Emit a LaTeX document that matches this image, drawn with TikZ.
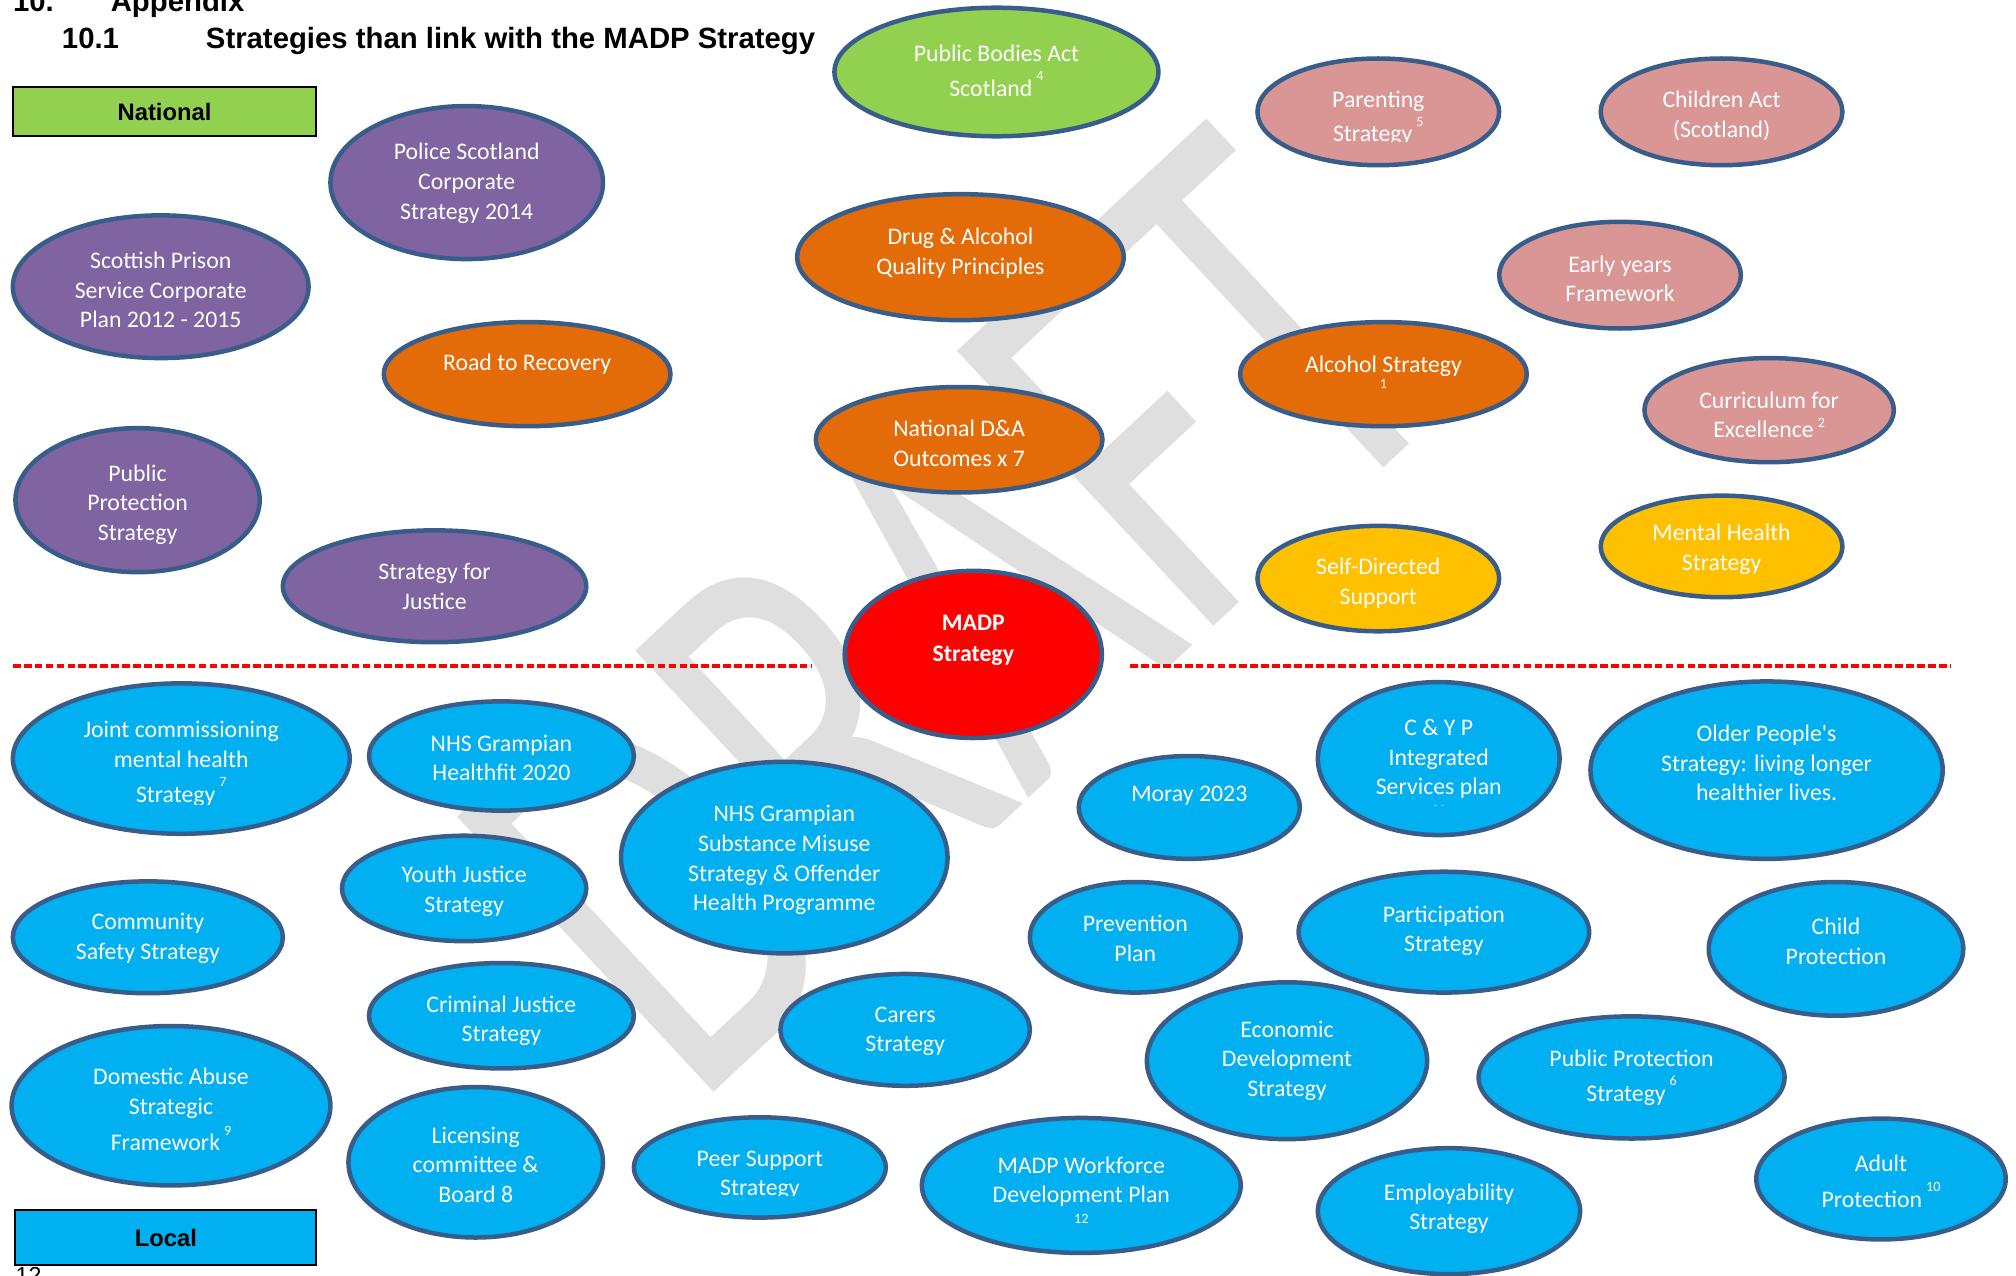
\documentclass[tikz,border=0pt]{standalone}
\usepackage{fontspec}
\setmainfont{Carlito}
\newfontfamily\arialf{Liberation Sans}
\usetikzlibrary{shapes.geometric}
\definecolor{cgreen}{HTML}{92D050}
\definecolor{cpink}{HTML}{D99694}
\definecolor{cpurple}{HTML}{8064A2}
\definecolor{corange}{HTML}{E36C09}
\definecolor{cyellow}{HTML}{FFC000}
\definecolor{cred}{HTML}{FF0000}
\definecolor{cblue}{HTML}{00B0F0}
\definecolor{cbord}{HTML}{385D8A}
\definecolor{cwm}{HTML}{DFDFDF}
\newcommand\bfnt{\fontsize{18.5}{23}\selectfont}
\newcommand\supf{\fontsize{11}{11}\selectfont}
\newcommand\sps[2][13pt]{\,\smash{\raisebox{#1}{\supf #2}}}
\tikzset{
  bub/.style={ellipse, draw=cbord, line width=3.5pt, inner sep=0pt},
  btxt/.style={text=white, font=\bfnt, align=center, inner sep=0pt, yshift=-2.5pt},
  titl/.style={anchor=base west, inner sep=0pt, font=\arialf\bfseries\fontsize{22.8}{26}\selectfont},
  lab/.style={draw=black, line width=1.6pt, inner sep=0pt, font=\arialf\bfseries\fontsize{18.5}{22}\selectfont},
  sep/.style={draw=cred, line width=2.6pt, dash pattern=on 6pt off 2.5pt}
}
\newcommand\bub[8]{%
  \node[bub, fill=#2, minimum width=#5pt, minimum height=#6pt] (#1) at (#3,#4) {};
  \node[btxt] (#1-t) at (#3,#7) {#8};}
\begin{document}
\begin{tikzpicture}[x=1pt,y=-1pt]
\path[use as bounding box] (0,0) rectangle (1568,992.4);
% watermark
\node[anchor=base west, inner sep=0pt, rotate=43, text=cwm] (wm) at (540,864)
  {\scalebox{1}[1.49]{\fontsize{306}{306}\selectfont DRAFT}};
% title
\node[titl] (t1a) at (10,9) {10.};
\node[titl] (t1b) at (86,9) {Appendix};
\node[titl] (t2a) at (48,37.6) {10.1};
\node[titl] (t2b) at (160,37.6) {Strategies than link with the MADP Strategy};
% labels
\node[lab, fill=cgreen, minimum width=236pt, minimum height=38pt] (nat) at (128,87) {National};
\node[lab, fill=cblue, minimum width=234pt, minimum height=43pt] (loc) at (129,962.5) {Local};
\node[anchor=base west, inner sep=0pt, font=\arialf\fontsize{18}{20}\selectfont] (pg) at (12,998) {12};
% separators
\coordinate (s1a) at (10,518); \coordinate (s1b) at (631,518);
\coordinate (s2a) at (879,518); \coordinate (s2b) at (1517,518);
\draw[sep] (s1a) -- (s1b);
\draw[sep] (s2a) -- (s2b);
% national
\bub{pb}{cgreen}{775}{56}{252}{100}{52.5}{Public Bodies Act\\[4pt]Scotland\sps[12pt]{4}}
\node[bub, fill=cpink, minimum width=188pt, minimum height=83pt] (par) at (1072,87) {};
\begin{scope}\clip (977,40) rectangle (1167,110.2);
\node[btxt] (par-t) at (1072,89.5) {Parenting\\[4pt]Strategy\sps[12pt]{5}};
\end{scope}
\bub{ch}{cpink}{1339}{87}{188}{83}{87.5}{Children Act\\(Scotland)}
\bub{pol}{cpurple}{363}{142}{212}{119}{140}{Police Scotland\\Corporate\\Strategy 2014}
\bub{spr}{cpurple}{125}{223}{230}{111}{223}{Scottish Prison\\Service Corporate\\Plan 2012 - 2015}
\bub{dq}{corange}{747}{200}{254}{98}{194.5}{Drug \& Alcohol\\Quality Principles}
\bub{ey}{cpink}{1260}{214}{188}{83}{214.5}{Early years\\Framework}
\bub{rr}{corange}{410}{291}{223}{81}{281}{Road to Recovery}
\bub{alc}{corange}{1076}{291}{223}{81}{287}{Alcohol Strategy\\[-10pt]{\supf 1}}
\bub{cur}{cpink}{1376}{319}{194}{81}{320}{Curriculum for\\Excellence\sps[8pt]{2}}
\bub{nda}{corange}{746}{342}{223}{82}{342.5}{National D\&A\\Outcomes x 7}
\node[bub, fill=cpurple, minimum width=190pt, minimum height=112pt] (pps) at (107,389) {};
\begin{scope}\clip (11,330) rectangle (202,422.5);
\node[btxt] (pps-t) at (107,390) {Public\\Protection\\Strategy};
\end{scope}
\bub{sfj}{cpurple}{338}{456}{236}{87}{453.5}{Strategy for\\Justice}
\bub{mh}{cyellow}{1339}{425}{188}{79}{424.5}{Mental Health\\Strategy}
\bub{sds}{cyellow}{1072}{450}{188}{82}{451}{Self-Directed\\Support}
\bub{madp}{cred}{757}{509}{200}{130}{495.5}{\bfseries MADP\\[1pt]\bfseries Strategy}
% local
\node[bub, fill=cblue, minimum width=262pt, minimum height=117pt] (jc) at (141,590) {};
\begin{scope}\clip (9,530) rectangle (273,626);
\node[btxt] (jc-t) at (141,591.5) {Joint commissioning\\mental health\\[4pt]Strategy\sps[12pt]{7}};
\end{scope}
\bub{hf}{cblue}{390}{588}{206}{85}{587}{NHS Grampian\\Healthfit 2020}
\bub{sm}{cblue}{610}{667}{254}{149}{666.5}{NHS Grampian\\Substance Misuse\\Strategy \& Offender\\Health Programme}
\bub{mor}{cblue}{925}{628}{172}{80}{616}{Moray 2023}
\node[bub, fill=cblue, minimum width=188pt, minimum height=119pt] (cyp) at (1119,590) {};
\begin{scope}\clip (1024,528) rectangle (1214,626.5);
\node[btxt] (cyp-t) at (1119,594) {C \& Y P\\Integrated\\Services plan\\[-8pt]{\supf 11}};
\end{scope}
\bub{op}{cblue}{1374}{599}{274}{138}{591}{Older People\textquotesingle s\\Strategy: living longer\\healthier lives.}
\bub{yj}{cblue}{361}{691}{190}{82}{690.5}{Youth Justice\\Strategy}
\bub{cs}{cblue}{115}{729}{210}{87}{727.5}{Community\\Safety Strategy}
\bub{pp}{cblue}{883}{729}{164}{86}{727.5}{Prevention\\Plan}
\bub{part}{cblue}{1123}{725}{226}{94}{721.5}{Participation\\Strategy}
\bub{cp}{cblue}{1428}{738}{198}{104}{729.5}{Child\\Protection}
\bub{cj}{cblue}{390}{790}{206}{82}{791.5}{Criminal Justice\\Strategy}
\bub{car}{cblue}{704}{801}{194}{87}{799.5}{Carers\\Strategy}
\bub{ed}{cblue}{1001}{825}{218}{122}{822.5}{Economic\\Development\\Strategy}
\bub{ppl}{cblue}{1269}{838}{238}{95}{835.5}{Public Protection\\[4pt]Strategy\sps[12pt]{6}}
\bub{da}{cblue}{133}{860}{248}{124}{860.5}{Domestic Abuse\\Strategic\\[5pt]Framework\sps[12pt]{9}}
\bub{lic}{cblue}{370}{904}{198}{117}{903.5}{Licensing\\committee \&\\Board 8}
\node[bub, fill=cblue, minimum width=196pt, minimum height=78pt] (ps) at (591,908) {};
\begin{scope}\clip (492,866) rectangle (690,930);
\node[btxt] (ps-t) at (591,911.5) {Peer Support\\Strategy};
\end{scope}
\bub{wf}{cblue}{841}{922}{248}{105}{923}{MADP Workforce\\Development Plan\\[-7pt]{\supf 12}}
\bub{emp}{cblue}{1127}{942}{204}{98}{937.5}{Employability\\Strategy}
\bub{ap}{cblue}{1463}{917}{194}{94}{916}{Adult\\[5pt]Protection\sps[12pt]{10}}
\end{tikzpicture}
\end{document}
